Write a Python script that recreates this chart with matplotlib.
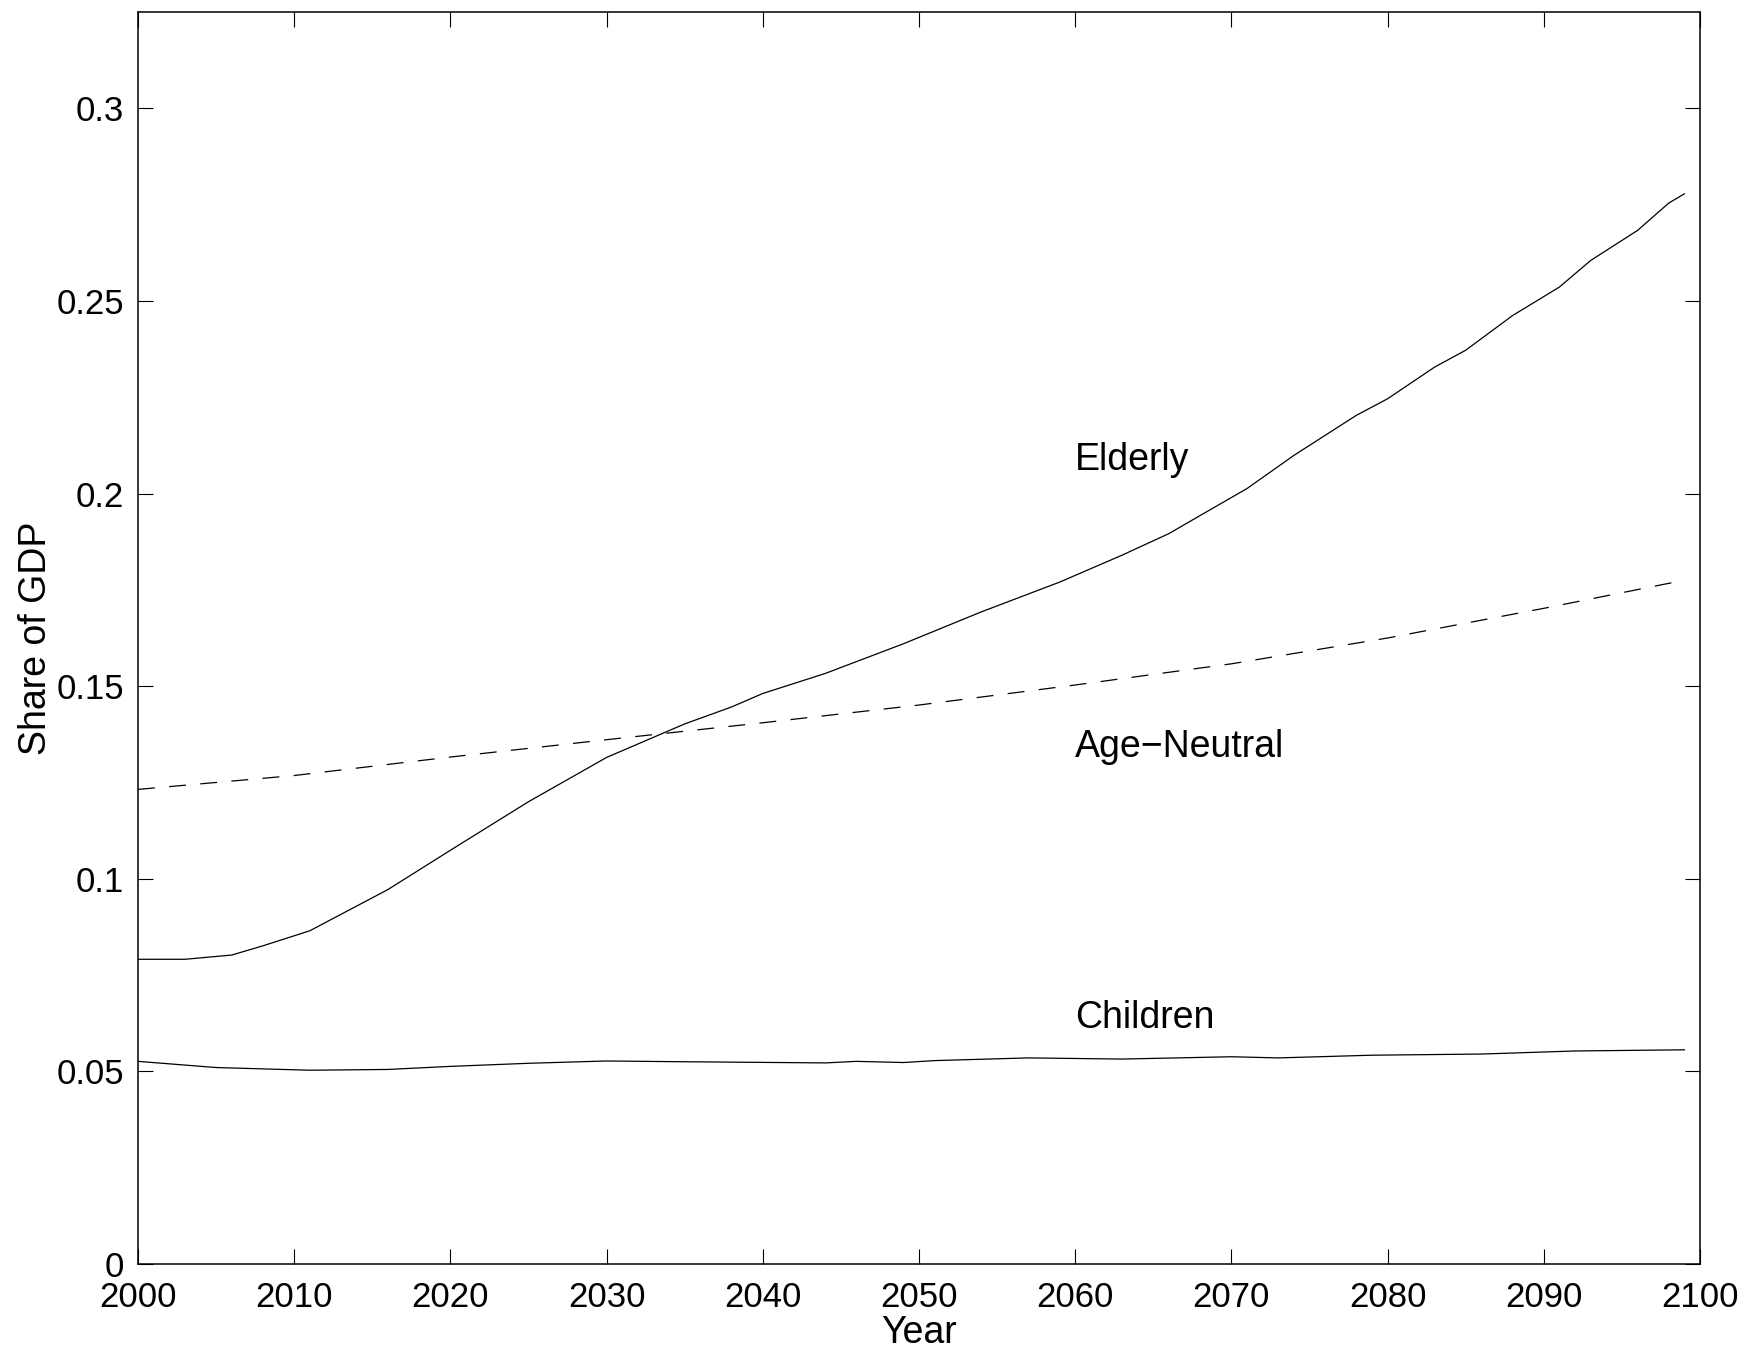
import matplotlib
matplotlib.use('Agg')
import matplotlib.pyplot as plt
import numpy as np

# Data (share of GDP)
elderly_years = [2000, 2003, 2006, 2008, 2011, 2016, 2020, 2025, 2030, 2035, 2038,
                 2040, 2044, 2049, 2054, 2059, 2063, 2066, 2068, 2071, 2074, 2078,
                 2080, 2083, 2085, 2088, 2091, 2093, 2096, 2098, 2099]
elderly = [0.0791, 0.0791, 0.0802, 0.0826, 0.0865, 0.0972, 0.1074, 0.1200, 0.1315,
           0.1402, 0.1446, 0.1481, 0.1533, 0.1610, 0.1693, 0.1770, 0.1840, 0.1896,
           0.1943, 0.2013, 0.2099, 0.2203, 0.2246, 0.2328, 0.2372, 0.2462, 0.2536,
           0.2605, 0.2683, 0.2754, 0.2778]

neutral_years = [2000, 2010, 2020, 2030, 2040, 2050, 2060, 2070, 2080, 2090, 2099]
neutral = [0.1232, 0.1268, 0.1316, 0.1361, 0.1405, 0.1451, 0.1503, 0.1558, 0.1625,
           0.1702, 0.1775]

children_years = [2000, 2005, 2011, 2016, 2020, 2025, 2030, 2035, 2044, 2046, 2049,
                  2051, 2057, 2063, 2070, 2073, 2079, 2086, 2092, 2099]
children = [0.0526, 0.0510, 0.0503, 0.0505, 0.0513, 0.0521, 0.0527, 0.0525, 0.0522,
            0.0526, 0.0523, 0.0528, 0.0535, 0.0532, 0.0538, 0.0535, 0.0542, 0.0545,
            0.0553, 0.0556]

xticks = np.arange(2000, 2101, 10)
yticks = [0, 0.05, 0.1, 0.15, 0.2, 0.25, 0.3]
ytick_labels = ['0', '0.05', '0.1', '0.15', '0.2', '0.25', '0.3']

plt.rcParams['font.family'] = ['Liberation Sans', 'DejaVu Sans']
fs = 25
fs_lab = 27

fig = plt.figure(figsize=(17.5, 13.53), dpi=100)
ax = fig.add_axes([138 / 1750, 89 / 1353, 1562 / 1750, 1252 / 1353])

ax.plot(elderly_years, elderly, color='black', lw=0.9)
ax.plot(neutral_years, neutral, color='black', lw=0.9, linestyle=(0, (13.5, 11.5)))
ax.plot(children_years, children, color='black', lw=0.9)

ax.text(2060, 0.206, 'Elderly', fontsize=fs_lab, ha='left', va='baseline')
ax.text(2060, 0.1317, 'Age\u2212Neutral', fontsize=fs_lab, ha='left', va='baseline')
ax.text(2060, 0.0612, 'Children', fontsize=fs_lab, ha='left', va='baseline')

ax.set_xlim(2000, 2100)
ax.set_ylim(0, 0.325)
ax.set_xticks(xticks)
ax.set_yticks(yticks)
ax.set_yticklabels(ytick_labels)
ax.tick_params(direction='in', top=True, right=True, length=11, width=0.8,
               labelsize=fs, pad=10)
ax.tick_params(axis='x', pad=12)
for s in ax.spines.values():
    s.set_linewidth(1.1)

ax.set_xlabel('Year', fontsize=fs_lab, labelpad=1)
ax.set_ylabel('Share of GDP', fontsize=fs_lab, labelpad=2)

fig.savefig('out.png', dpi=100)
